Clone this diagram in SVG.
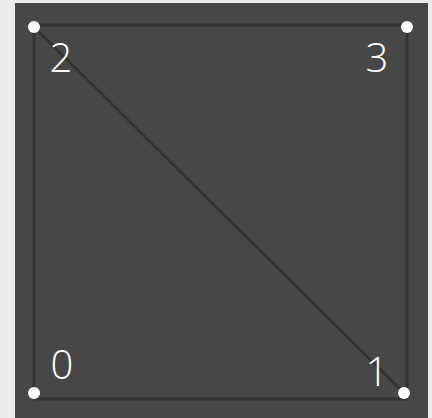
<svg xmlns="http://www.w3.org/2000/svg" width="432" height="418" viewBox="0 0 432 418">
  <style>
    .edge { stroke: #333333; stroke-width: 3; fill: none; stroke-linecap: butt; }
    .diag { stroke: #333333; stroke-width: 2.5; fill: none; }
    .pt { fill: #ffffff; }
    .lbl { font-family: "Open Sans", "Noto Sans", sans-serif; font-weight: 300; font-size: 40px; fill: #ffffff; text-anchor: middle; }
  </style>
  <rect x="0" y="0" width="432" height="418" fill="#ebebeb"/>
  <rect x="15" y="3" width="413" height="415" fill="#474747"/>
  <g id="connectors">
    <line class="edge" x1="34" y1="25" x2="407" y2="25"/>
    <line class="edge" x1="407" y1="25" x2="407" y2="399"/>
    <line class="edge" x1="407" y1="399" x2="34" y2="399"/>
    <line class="edge" x1="34" y1="399" x2="34" y2="25"/>
    <line class="diag" x1="34" y1="27" x2="404" y2="393"/>
  </g>
  <g id="node0">
    <circle class="pt" cx="34" cy="393" r="6"/>
    <text class="lbl" x="62" y="379">0</text>
  </g>
  <g id="node1">
    <circle class="pt" cx="404" cy="393" r="6"/>
    <text class="lbl" x="377" y="386">1</text>
  </g>
  <g id="node2">
    <circle class="pt" cx="34" cy="27" r="6"/>
    <text class="lbl" x="61" y="72">2</text>
  </g>
  <g id="node3">
    <circle class="pt" cx="407" cy="27" r="6"/>
    <text class="lbl" x="377" y="72">3</text>
  </g>
</svg>
